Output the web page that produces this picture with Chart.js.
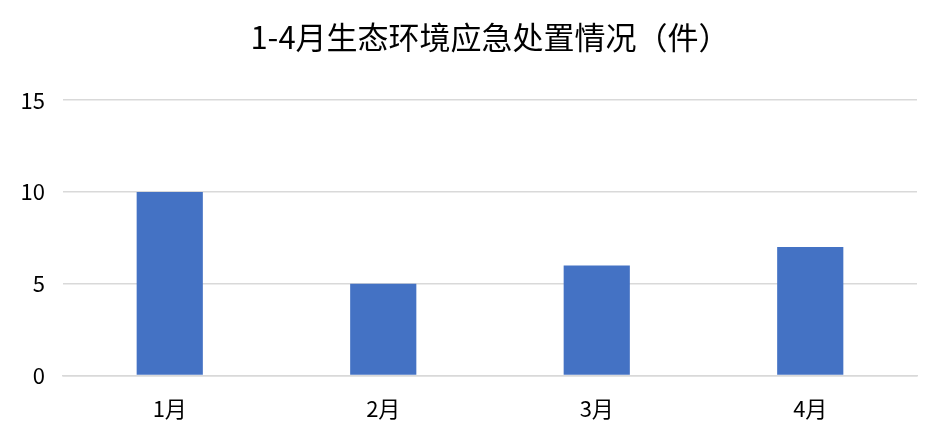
<!DOCTYPE html>
<html>
<head>
<meta charset="utf-8">
<script src="https://cdn.jsdelivr.net/npm/chart.js@4"></script>
<style>
  html, body { margin: 0; padding: 0; background: #fff; }
  #wrap { width: 942px; height: 445px; }
</style>
</head>
<body>
<div id="wrap"><canvas id="chart"></canvas></div>
<script>
// Data
const titleText = "1-4月生态环境应急处置情况（件）";
const months = ["1月", "2月", "3月", "4月"];
const counts = [10, 5, 6, 7];
const yTicks = [0, 5, 10, 15];

const fontFamily = "'Noto Sans CJK SC', 'Noto Sans', sans-serif";

Chart.defaults.font.family = fontFamily;
Chart.defaults.color = "#000";

new Chart(document.getElementById("chart"), {
  type: "bar",
  data: {
    labels: months,
    datasets: [{
      label: "件",
      data: counts,
      backgroundColor: "#4472C4",
      borderWidth: 0,
      categoryPercentage: 1,
      barPercentage: 0.31
    }]
  },
  options: {
    responsive: true,
    maintainAspectRatio: false,
    animation: false,
    layout: { padding: { left: 0, right: 25, top: 0, bottom: 3 } },
    plugins: {
      legend: { display: false },
      tooltip: { enabled: false },
      title: {
        display: true,
        fullSize: false, // centre over the plot area, not the whole canvas
        text: titleText,
        color: "#000",
        font: { size: 31, weight: "normal" },
        padding: { top: 19, bottom: 44 }
      }
    },
    scales: {
      x: {
        grid: { display: false, drawTicks: false },
        border: { display: true, color: "#d9d9d9", width: 1.5 },
        ticks: { font: { size: 22 }, padding: 20, color: "#000" }
      },
      y: {
        min: 0,
        max: 15,
        afterBuildTicks: (scale) => { scale.ticks = yTicks.map(v => ({ value: v })); },
        afterFit: (scale) => { scale.width = 63; },
        grid: { color: "#d9d9d9", lineWidth: 1.5, drawTicks: false },
        border: { display: false },
        ticks: { font: { size: 22 }, padding: 18, color: "#000" }
      }
    }
  }
});
</script>
</body>
</html>
